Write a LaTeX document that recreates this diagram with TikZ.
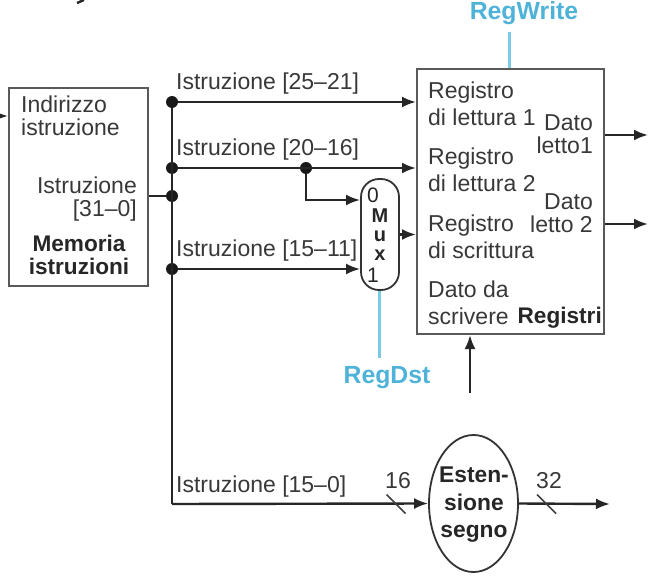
\documentclass[tikz,border=0pt]{standalone}
\usepackage{fontspec}
\setmainfont{Liberation Sans}
\usetikzlibrary{arrows.meta, positioning, shapes.geometric, calc}
\definecolor{ctrlblue}{HTML}{4FB3D9}
\definecolor{ctrlline}{HTML}{7CCBE6}
\tikzset{
    unit/.style={draw=black!65, line width=2pt, rectangle, inner sep=0pt},
    wire/.style={draw=black!85, line width=2.4pt},
    arrowwire/.style={wire, -{Latex[length=14pt, width=11pt]}},
    ctrl/.style={draw=ctrlline, line width=3pt},
    junction/.style={circle, fill=black!90, inner sep=0pt, minimum size=12pt},
    lbl/.style={inner sep=0pt, text=black!78, font=\fontsize{23}{23}\selectfont},
    lblwide/.style={inner sep=0pt, text=black!78, font=\fontsize{23}{26.5}\selectfont},
    lblbold/.style={inner sep=0pt, text=black!85, font=\fontsize{22.6}{23}\selectfont\bfseries},
    muxlbl/.style={inner sep=0pt, text=black!85, font=\fontsize{21}{21}\selectfont},
    muxbold/.style={inner sep=0pt, text=black!85, font=\fontsize{20}{20}\selectfont\bfseries},
    ctrllbl/.style={inner sep=0pt, text=ctrlblue, font=\fontsize{24.8}{26}\selectfont\bfseries}
}
\begin{document}
\begin{tikzpicture}[x=1pt, y=-1pt, align=left]
    \useasboundingbox (0,0) rectangle (656,580);

    % Draw the units
    \node[unit, minimum width=139pt, minimum height=198pt] (imem) at (78.5,187) {};
    \node[unit, minimum width=187pt, minimum height=265pt] (regs) at (510.5,201.5) {};
    \node[unit, draw=black!80, line width=1.8pt, rounded corners=18pt, minimum width=38pt, minimum height=111pt] (mux) at (380,234.5) {};
    \node[unit, draw=black!80, line width=1.8pt, ellipse, minimum width=89pt, minimum height=137pt] (signext) at (473.5,503.5) {};

    % Draw the junctions
    \node[junction] (dot25) at (172,102) {};
    \node[junction] (dot20) at (172,168) {};
    \node[junction] (dotin) at (172,196) {};
    \node[junction] (dot15) at (172,269) {};
    \node[junction] (dotmux) at (306,168) {};
    \coordinate (busend) at (172,504);
    \coordinate (pcin) at (0,116);
    \coordinate (topstub) at (84,0);
    \coordinate (topstubend) at (77,3);
    \coordinate (out1) at (648,135);
    \coordinate (out2) at (648,224);
    \coordinate (wdata) at (470,393);
    \coordinate (extout) at (610,504);
    \coordinate (regwritetop) at (509,32);
    \coordinate (regdstend) at (379,358);

    % Draw the wires
    \draw[wire] (dot25) -- (busend);
    \draw[wire] (imem.east |- dotin) -- (dotin);
    \draw[arrowwire] (dot25) -- (dot25 -| regs.west);
    \draw[arrowwire] (dot20) -- (dot20 -| regs.west);
    \draw[arrowwire] (dotmux) |- (mux.west |- 0,200);
    \draw[arrowwire] (dot15) -- (dot15 -| mux.west);
    \draw[arrowwire] (mux.east) -- (mux.east -| regs.west);
    \draw[arrowwire] (busend) -- (signext.west);
    \draw[arrowwire] (signext.east) -- (extout);
    \draw[arrowwire] (regs.east |- out1) -- (out1);
    \draw[arrowwire] (regs.east |- out2) -- (out2);
    \draw[arrowwire] (wdata) -- (wdata |- regs.south);
    \draw[arrowwire] (pcin) -- (imem.west |- pcin);
    \draw[wire] (topstub) -- (topstubend);

    % Draw the control lines
    \draw[ctrl] (regwritetop) -- (regwritetop |- regs.north);
    \draw[ctrl] (regdstend) -- (regdstend |- mux.south);

    % Draw the bit width ticks
    \coordinate (tick16) at (396,504);
    \coordinate (tick32) at (546.5,504);
    \draw[draw=black!75, line width=1.6pt] ($(tick16)+(-9.5,-9.5)$) -- ($(tick16)+(9.5,9.5)$);
    \draw[draw=black!75, line width=1.6pt] ($(tick32)+(-9.5,-9.5)$) -- ($(tick32)+(9.5,9.5)$);

    % Wire labels
    \node[lbl, anchor=base west] (lbl25) at (176,90) {Istruzione [25--21]};
    \node[lbl, anchor=base west] (lbl20) at (176,156) {Istruzione [20--16]};
    \node[lbl, anchor=base west] (lbl15) at (176,257) {Istruzione [15--11]};
    \node[lbl, anchor=base west] (lbl0) at (176,492) {Istruzione [15--0]};
    \node[lbl, anchor=base] (lbl16) at (398,488) {16};
    \node[lbl, anchor=base] (lbl32) at (549,488) {32};

    % Memory text
    \node[lbl, anchor=north west] (addr) at (21,96) {Indirizzo\\istruzione};
    \node[lbl, anchor=north east, align=right] (instr) at (137,177) {Istruzione\\{[31--0]}};
    \node[lblbold, anchor=north, align=center] (imemname) at (79,235) {Memoria\\istruzioni};

    % Register text
    \node[lblwide, anchor=north west] (read1) at (428,82) {Registro\\di lettura 1};
    \node[lblwide, anchor=north west] (read2) at (428,148) {Registro\\di lettura 2};
    \node[lblwide, anchor=north west] (write) at (428,215) {Registro\\di scrittura};
    \node[lblwide, anchor=north west] (wdatatxt) at (428,281) {Dato da\\scrivere};
    \node[lbl, anchor=north east, align=right] (data1) at (593,114) {Dato\\letto1};
    \node[lbl, anchor=north east, align=right] (data2) at (593,193) {Dato\\letto 2};
    \node[lblbold, anchor=base east] (regsname) at (602,323) {Registri};

    % Mux text
    \node[muxlbl] (mux0) at (373,195) {0};
    \node[muxlbl] (mux1) at (373,275) {1};
    \node[muxbold] (muxm) at (380,215.5) {M};
    \node[muxbold] (muxu) at (380,236) {u};
    \node[muxbold] (muxx) at (380,255) {x};

    % Sign extend text
    \node[lblbold, anchor=north, align=center, font=\fontsize{22.8}{27.5}\selectfont\bfseries] (signtxt) at (474,467) {Esten-\\sione\\segno};

    % Control labels
    \node[ctrllbl] (regwrite) at (524,13) {RegWrite};
    \node[ctrllbl] (regdst) at (387,378) {RegDst};
\end{tikzpicture}
\end{document}
